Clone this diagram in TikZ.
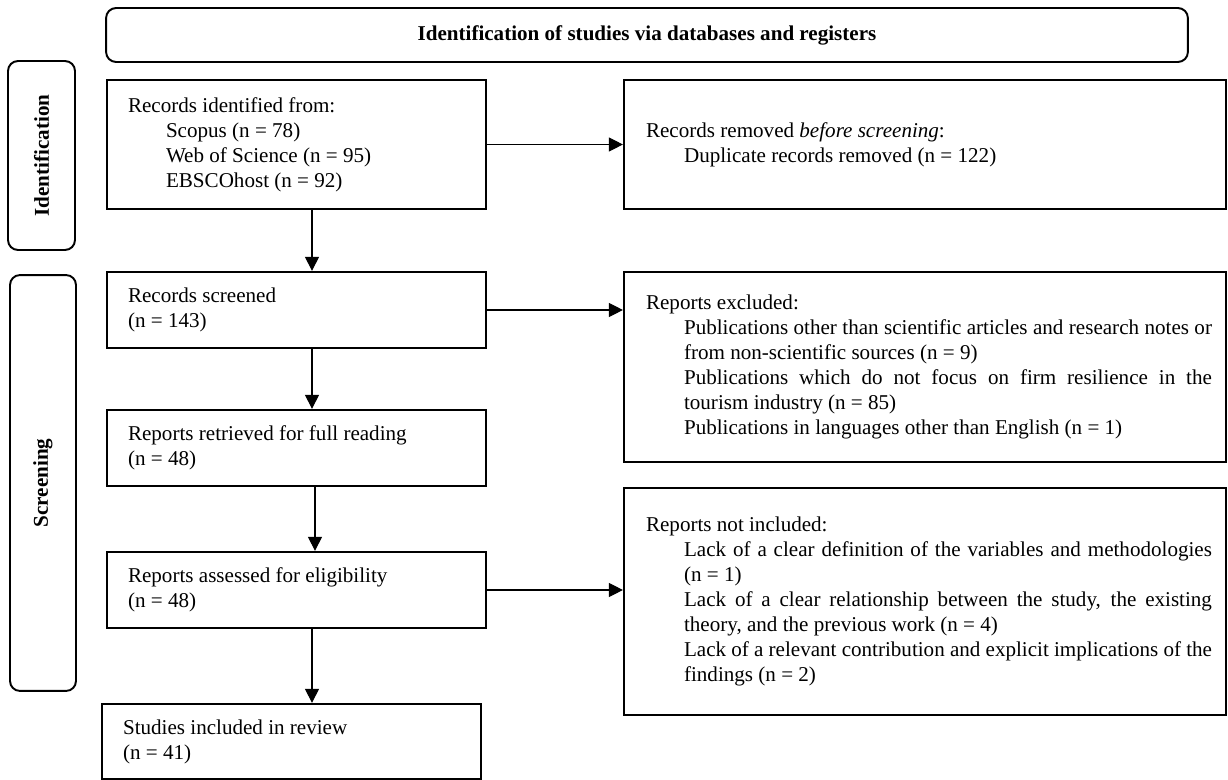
\documentclass[tikz,border=0pt]{standalone}
\usepackage{fontspec}
\setmainfont{Liberation Serif}
\usetikzlibrary{arrows.meta}
\newcommand{\subline}[2][0cm]{\par{\leftskip=0.76cm\rightskip=#1\relax\spaceskip=0pt\xspaceskip=0pt #2\par}}

\begin{document}
\begin{tikzpicture}[x=0.02cm,y=-0.02cm,
  every node/.style={font=\fontsize{12}{14.2}\selectfont},
  stage/.style={draw,line width=1.1pt,rounded corners=0.2cm,inner sep=0pt},
  box/.style={draw,line width=1.3pt,minimum width=7.58cm,minimum height=1.52cm,text width=6.74cm,inner xsep=0.42cm,inner ysep=0pt,align=justify},
  outbox/.style={draw,line width=1.3pt,minimum width=12.04cm,text width=11.16cm,inner xsep=0.44cm,inner ysep=0pt,align=justify},
  arr/.style={line width=0.6pt,-{Triangle[length=0.28cm,width=0.28cm]}}]
\useasboundingbox (0,0) rectangle (1228,780);
% stages
\node[stage,minimum width=21.64cm,minimum height=1.08cm,font=\fontsize{12}{14.2}\selectfont\bfseries] (hdr) at (647,35) {Identification of studies via databases and registers};
\node[stage,minimum width=1.34cm,minimum height=3.78cm] (idn) at (41.5,155.5) {\rotatebox{90}{\bfseries Identification}};
\node[stage,minimum width=1.32cm,minimum height=8.32cm] (scn) at (43,483) {\rotatebox{90}{\bfseries Screening}};
% left column
\node[box,minimum height=2.58cm] (rec) at (296.5,144.5) {Records identified from:\subline{Scopus (n~=~78)}\subline{Web of Science (n~=~95)}\subline{EBSCOhost (n~=~92)}};
\node[box] (scr) at (296.5,310) {Records screened\par(n~=~143)};
\node[box] (ret) at (296.5,448) {Reports retrieved for full reading\par(n~=~48)};
\node[box] (ass) at (296.5,590) {Reports assessed for eligibility\par(n~=~48)};
\node[box,minimum height=1.5cm] (inc) at (291.5,741.5) {Studies included in review\par(n~=~41)};
% right column
\node[outbox,minimum height=2.58cm] (rem) at (925,144.5) {Records removed \textit{before screening}:\subline{Duplicate records removed (n~=~122)}};
\node[outbox,minimum height=3.8cm] (excl) at (925,367) {Reports excluded:%
\subline[-0.16cm]{Publications other than scientific articles and research notes or\linebreak from non-scientific sources (n~=~9)}%
\subline[-0.16cm]{Publications which do not focus on firm resilience in the\linebreak tourism industry (n~=~85)}%
\subline[-0.16cm]{Publications in languages other than English (n~=~1)}};
\node[outbox,minimum height=4.54cm] (notin) at (925,601.5) {Reports not included:%
\subline[-0.16cm]{Lack of a clear definition of the variables and methodologies\linebreak (n~=~1)}%
\subline[-0.16cm]{Lack of a clear relationship between the study, the existing\linebreak theory, and the previous work (n~=~4)}%
\subline[-0.16cm]{Lack of a relevant contribution and explicit implications of the\linebreak findings (n~=~2)}};
% arrows
\draw[arr] ([xshift=0.31cm]rec.south) -- ([xshift=0.31cm]scr.north);
\draw[arr] ([xshift=0.31cm]scr.south) -- ([xshift=0.31cm]ret.north);
\draw[arr] ([xshift=0.37cm]ret.south) -- ([xshift=0.37cm]ass.north);
\draw[arr] ([xshift=0.31cm]ass.south) -- ([xshift=0.31cm]ass.south |- inc.north);
\draw[arr] (rec) -- (rem);
\draw[arr] (scr.east) -- (scr.east -| excl.west);
\draw[arr] (ass.east) -- (ass.east -| notin.west);
\end{tikzpicture}
\end{document}
